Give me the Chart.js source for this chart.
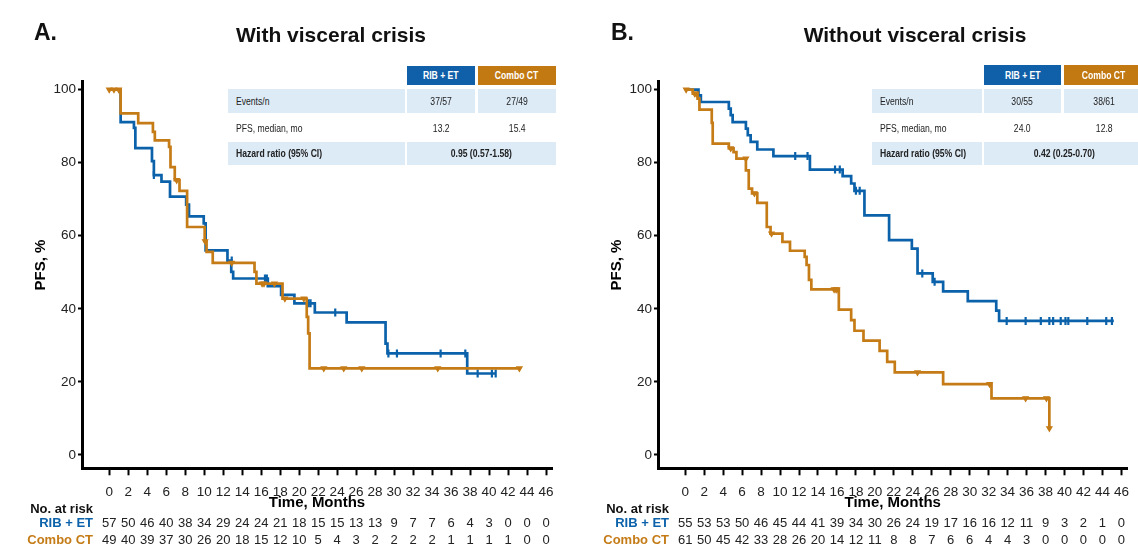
<!DOCTYPE html>
<html>
<head>
<meta charset="utf-8">
<script src="https://cdn.jsdelivr.net/npm/chart.js@4.4.1/dist/chart.umd.min.js"></script>
<style>
  body { margin: 0; background: #fff; }
  #wrap { position: relative; width: 1138px; height: 551px; overflow: hidden; font-family: "Liberation Sans", Arial, sans-serif; }
  canvas { position: absolute; top: 0; }
  #cA { left: 0; }
  #cB { left: 576px; }
  .panel-letter { position: absolute; font-weight: bold; font-size: 23px; color: #111; line-height: 1; }
  .panel-title { position: absolute; font-weight: bold; font-size: 21px; color: #111; line-height: 1; text-align: center; width: 320px; }
  .cell { position: absolute; font-size: 10.5px; color: #222; text-align: center; white-space: nowrap; }
  .cell span { display: inline-block; transform: scaleX(0.82); }
  .lab { text-align: left; padding-left: 8px; box-sizing: border-box; }
  .lab span { transform-origin: left center; }
  .bg { background: #ddebf7; }
  .hb { background: #0f60a8; color: #fff; font-weight: bold; }
  .ho { background: #c27912; color: #fff; font-weight: bold; }
  .b { font-weight: bold; }
</style>
</head>
<body>
<div id="wrap">
  <canvas id="cA" width="576" height="551"></canvas>
  <canvas id="cB" width="562" height="551"></canvas>

  <div class="panel-letter" style="left:34px;top:21px">A.</div>
  <div class="panel-title" style="left:171px;top:24px">With visceral crisis</div>
  <div class="panel-letter" style="left:611px;top:21px">B.</div>
  <div class="panel-title" style="left:755px;top:24px">Without visceral crisis</div>

  <!-- table A -->
  <div class="cell hb" style="left:407px;top:66px;width:68px;height:19px;line-height:19px"><span>RIB + ET</span></div>
  <div class="cell ho" style="left:478px;top:66px;width:78px;height:19px;line-height:19px"><span>Combo CT</span></div>
  <div class="cell bg lab" style="left:228px;top:89px;width:177px;height:24px;line-height:24px"><span>Events/n</span></div>
  <div class="cell bg" style="left:407px;top:89px;width:68px;height:24px;line-height:24px"><span>37/57</span></div>
  <div class="cell bg" style="left:478px;top:89px;width:78px;height:24px;line-height:24px"><span>27/49</span></div>
  <div class="cell lab" style="left:228px;top:116px;width:177px;height:24px;line-height:24px"><span>PFS, median, mo</span></div>
  <div class="cell" style="left:407px;top:116px;width:68px;height:24px;line-height:24px"><span>13.2</span></div>
  <div class="cell" style="left:478px;top:116px;width:78px;height:24px;line-height:24px"><span>15.4</span></div>
  <div class="cell bg lab b" style="left:228px;top:142px;width:177px;height:23px;line-height:23px"><span>Hazard ratio (95% CI)</span></div>
  <div class="cell bg b" style="left:407px;top:142px;width:149px;height:23px;line-height:23px"><span>0.95 (0.57-1.58)</span></div>

  <!-- table B -->
  <div class="cell hb" style="left:984px;top:65px;width:77px;height:20px;line-height:20px"><span>RIB + ET</span></div>
  <div class="cell ho" style="left:1064px;top:65px;width:80px;height:20px;line-height:20px"><span>Combo CT</span></div>
  <div class="cell bg lab" style="left:872px;top:89px;width:110px;height:24px;line-height:24px"><span>Events/n</span></div>
  <div class="cell bg" style="left:984px;top:89px;width:77px;height:24px;line-height:24px"><span>30/55</span></div>
  <div class="cell bg" style="left:1064px;top:89px;width:80px;height:24px;line-height:24px"><span>38/61</span></div>
  <div class="cell lab" style="left:872px;top:116px;width:110px;height:24px;line-height:24px"><span>PFS, median, mo</span></div>
  <div class="cell" style="left:984px;top:116px;width:77px;height:24px;line-height:24px"><span>24.0</span></div>
  <div class="cell" style="left:1064px;top:116px;width:80px;height:24px;line-height:24px"><span>12.8</span></div>
  <div class="cell bg lab b" style="left:872px;top:142px;width:110px;height:23px;line-height:23px"><span>Hazard ratio (95% CI)</span></div>
  <div class="cell bg b" style="left:984px;top:142px;width:160px;height:23px;line-height:23px"><span>0.42 (0.25-0.70)</span></div>
</div>

<script>
// ---- data ----
const timeTicks = [0,2,4,6,8,10,12,14,16,18,20,22,24,26,28,30,32,34,36,38,40,42,44,46];
const pfsTicks = [0,20,40,60,80,100];

// panel A, with visceral crisis: [month, PFS %] after each drop
const ribA = [[0,100],[1.2,91.1],[2.6,89.5],[2.75,84],[4.5,80.4],[4.7,76.6],[5.5,74.8],[6.4,70.7],[8.1,68.5],[8.4,65.3],[9.95,63.4],[10.15,56],[12.45,53.2],[12.85,50.1],[13.05,48.3],[16.7,46.2],[18.1,43.8],[19.5,41.5],[21.65,39],[25.0,36.3],[29.1,30.5],[29.3,27.8],[37.7,22.3],[40.7,22.3]];
const ribA_cens = [[4.7,76.6],[12.9,53.2],[16.4,48.3],[16.6,48.3],[21.0,41.5],[21.2,41.5],[23.8,39],[29.4,27.8],[30.3,27.8],[34.9,27.8],[37.5,27.8],[38.8,22.3],[40.3,22.3],[40.7,22.3]];
const comboA = [[0,100],[1.2,93.5],[3.05,90.8],[4.6,88.4],[4.8,86.1],[6.3,84.3],[6.45,78.8],[6.9,75.2],[7.4,72.3],[8.2,62.4],[10.05,58.5],[10.25,55.6],[10.9,52.6],[15.3,50.1],[15.5,46.9],[18.25,42.8],[20.8,37.8],[20.95,33.3],[21.1,23.7],[43.2,23.7]];
const comboA_cens = [[0,100],[0.5,100],[1.0,100],[7.1,75.2],[10.1,58.5],[12.9,52.6],[16.1,46.9],[16.3,46.9],[17.4,46.9],[18.5,42.8],[20.5,42.8],[22.6,23.7],[24.7,23.7],[26.6,23.7],[34.6,23.7],[43.2,23.7]];
const riskRibA = [57,50,46,40,38,34,29,24,24,21,18,15,15,13,13,9,7,7,6,4,3,0,0,0];
const riskComboA = [49,40,39,37,30,26,20,18,15,12,10,5,4,3,2,2,2,2,1,1,1,1,0,0];

// panel B, without visceral crisis
const ribB = [[0,100],[1.4,98.4],[1.65,96.6],[4.6,94.8],[4.8,93],[5.0,91.1],[6.4,89.3],[6.6,87.5],[6.9,85.7],[7.6,83.6],[9.3,81.8],[13.15,78.1],[16.6,76.3],[17.5,74.3],[17.85,72.3],[18.9,65.6],[21.5,58.8],[23.9,56.5],[24.5,49.7],[26.1,47.4],[27.2,44.8],[29.8,42.1],[32.8,39.5],[33.1,36.7],[45.2,36.7]];
const ribB_cens = [[11.6,81.8],[12.9,81.8],[15.8,78.1],[16.3,78.1],[18.0,72.3],[18.4,72.3],[25.0,49.7],[26.3,47.4],[33.9,36.7],[35.9,36.7],[37.5,36.7],[38.4,36.7],[38.8,36.7],[39.6,36.7],[40.1,36.7],[40.4,36.7],[42.4,36.7],[44.4,36.7],[45.0,36.7]];
const comboB = [[0,100],[0.8,98.9],[1.3,97.5],[1.5,94.5],[2.8,90.9],[2.9,85.2],[4.6,83.9],[5.1,82.9],[5.4,81.1],[6.4,77.9],[6.7,72.9],[7.05,71.6],[7.6,69],[8.6,62.4],[9.0,60.6],[10.25,58.3],[11.05,55.9],[12.6,54.2],[12.8,52],[13.05,47.9],[13.3,45.3],[16.2,39.8],[17.5,36.9],[17.85,34],[18.8,31.3],[20.5,28.5],[21.3,25.5],[22.1,22.6],[27.2,19.4],[32.3,15.5],[38.4,7.3]];
const comboB_cens = [[0.1,100],[1.0,98.9],[1.15,98.9],[4.8,83.9],[6.4,81.1],[7.3,71.6],[9.1,60.6],[15.7,45.3],[15.9,45.3],[16.0,45.3],[24.5,22.6],[32.1,19.4],[35.9,15.5],[38.1,15.5],[38.4,7.3]];
const riskRibB = [55,53,53,50,46,45,44,41,39,34,30,26,24,19,17,16,16,12,11,9,3,2,1,0];
const riskComboB = [61,50,45,42,33,28,26,20,14,12,11,8,8,7,6,6,4,4,3,0,0,0,0,0];

const BLUE = '#0b62aa';
const ORANGE = '#c57b16';
const FONT = '"Liberation Sans", Arial, sans-serif';
Chart.defaults.font.family = FONT;

function toXY(arr) {
    return arr.map(p => ({x: p[0], y: p[1]}));
}

// at-risk table + y title, drawn under the axis using the x scale
const riskTable = {
    id: 'riskTable',
    afterDraw(chart, args, opts) {
        const ctx = chart.ctx;
        const x = chart.scales.x;
        ctx.save();
        ctx.textBaseline = 'alphabetic';
        ctx.font = 'bold 13px ' + FONT;
        ctx.textAlign = 'right';
        ctx.fillStyle = '#111';
        ctx.fillText('No. at risk', 93, 513);
        ctx.fillStyle = BLUE;
        ctx.fillText('RIB + ET', 93, 527);
        ctx.fillStyle = ORANGE;
        ctx.fillText('Combo CT', 93, 544);

        ctx.font = '13px ' + FONT;
        ctx.textAlign = 'center';
        ctx.fillStyle = '#222';
        opts.rows.forEach((row, r) => {
            row.forEach((n, i) => {
                ctx.fillText(String(n), x.getPixelForValue(timeTicks[i]), r === 0 ? 527 : 544);
            });
        });

        ctx.translate(41, 265);
        ctx.rotate(-Math.PI / 2);
        ctx.font = 'bold 15px ' + FONT;
        ctx.fillStyle = '#000';
        ctx.textBaseline = 'middle';
        ctx.textAlign = 'center';
        ctx.fillText('PFS, %', 0, 0);
        ctx.restore();
    }
};

function draw_panel(id, rib, ribCens, combo, comboCens, riskRib, riskCombo, rightPad) {
    const canvas = document.getElementById(id);
    new Chart(canvas.getContext('2d'), {
        type: 'line',
        data: {
            datasets: [
                {data: toXY(rib), borderColor: BLUE, borderWidth: 2.7, stepped: 'before', pointRadius: 0, fill: false, order: 2},
                {data: toXY(combo), borderColor: ORANGE, borderWidth: 2.7, stepped: 'before', pointRadius: 0, fill: false, order: 1},
                {data: toXY(ribCens), showLine: false, pointStyle: 'line', rotation: 90, pointRadius: 4,
                 borderColor: BLUE, pointBorderWidth: 2.2, order: 2},
                {data: toXY(comboCens), showLine: false, pointStyle: 'triangle', rotation: 180, pointRadius: 3,
                 borderColor: ORANGE, backgroundColor: ORANGE, pointBorderWidth: 1.2, order: 1}
            ]
        },
        options: {
            responsive: false,
            animation: false,
            devicePixelRatio: 1,
            layout: {padding: {left: 0, top: 81, right: rightPad, bottom: 0}},
            plugins: {
                legend: {display: false},
                tooltip: {enabled: false},
                riskTable: {rows: [riskRib, riskCombo]}
            },
            scales: {
                x: {
                    type: 'linear',
                    min: -2.87,
                    max: 46.63,
                    afterBuildTicks: s => { s.ticks = timeTicks.map(v => ({value: v})); },
                    afterFit: s => { s.height = 82.7; },
                    grid: {display: true, drawOnChartArea: false, drawTicks: true, tickLength: 7, tickWidth: 2, tickColor: '#000'},
                    border: {display: true, color: '#000', width: 3},
                    ticks: {padding: 9, autoSkip: false, maxRotation: 0, color: '#222', font: {size: 13.5}},
                    title: {display: true, text: 'Time, Months', color: '#000',
                            font: {size: 15, weight: 'bold'}, padding: {top: 0, bottom: 39}}
                },
                y: {
                    min: -3.64,
                    max: 102.35,
                    afterBuildTicks: s => { s.ticks = pfsTicks.map(v => ({value: v})); },
                    afterFit: s => { s.width = 82; },
                    grid: {display: true, drawOnChartArea: false, drawTicks: true, tickLength: 4, tickWidth: 2, tickColor: '#000'},
                    border: {display: true, color: '#000', width: 3},
                    ticks: {padding: 2, color: '#222', font: {size: 13.5}}
                }
            }
        },
        plugins: [riskTable]
    });
}

draw_panel('cA', ribA, ribA_cens, comboA, comboA_cens, riskRibA, riskComboA, 24);
draw_panel('cB', ribB, ribB_cens, comboB, comboB_cens, riskRibB, riskComboB, 5);
</script>
</body>
</html>
